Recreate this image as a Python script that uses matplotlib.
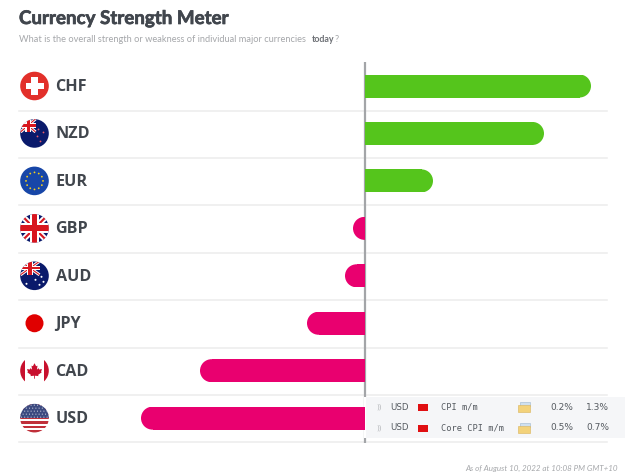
import matplotlib
matplotlib.use("Agg")
import matplotlib.pyplot as plt
import matplotlib.patheffects as pe
import numpy as np
from matplotlib.patches import Circle, Rectangle, Polygon

currencies = ["CHF", "NZD", "EUR", "GBP", "AUD", "JPY", "CAD", "USD"]
strength = [226, 179, 68, -12, -20, -58, -165, -224]
events = ["CPI m/m", "Core CPI m/m"]
actual = ["0.2%", "0.5%"]
previous = ["1.3%", "0.7%"]

GREEN = "#55c51c"
PINK = "#e9006f"
INK = "#41464d"
NAVY = "#0a1a6b"
RED = "#d8161f"

ZERO = 365
fig = plt.figure(figsize=(6.25, 4.76), dpi=100)
ax = fig.add_axes([0, 0, 1, 1])
ax.set_xlim(-ZERO, 625 - ZERO)
ax.set_ylim(476, 0)
ax.axis("off")


def px(x):
    return x - ZERO


rows = 86 + 47.45 * np.arange(len(currencies))
BAR_H = 23
HEAVY = [pe.withStroke(linewidth=0.5, foreground=INK)]

# row separators
for y in rows[:-1] + 24.5:
    ax.plot([px(19), px(607)], [y, y], color="#eeeeee", lw=1.2, zorder=1)
ax.plot([px(19), px(607)], [442, 442], color="#eeeeee", lw=1.2, zorder=1)

# zero axis
ax.plot([0, 0], [62, 443], color="#a3a5a8", lw=1.6, zorder=2, solid_capstyle="butt")

# calendar panel
ax.add_patch(Rectangle((px(366), 397), 259, 41, fc="#f5f6f8", ec="none", zorder=3))
ax.add_patch(Rectangle((-1.5, 397), 3, 41, fc="#ffffff", ec="none", zorder=2.5))

# strength bars: square at the axis, rounded at the far end
for y, v in zip(rows, strength):
    sign = 1 if v > 0 else -1
    r = BAR_H / 2
    color = GREEN if v > 0 else PINK
    ax.barh(y, v - sign * r, height=BAR_H, color=color, zorder=4, lw=0)
    cap = Circle((v - sign * r, y), r, fc=color, ec="none", zorder=4)
    ax.add_patch(cap)
    # keep the cap from crossing the zero axis on very short bars
    cap.set_clip_path(Rectangle((min(0, v), y - r), abs(v), BAR_H, transform=ax.transData))


def flag_disc(cy, bg):
    cx = px(34.5)
    clip = Circle((cx, cy), 14.3, transform=ax.transData)
    disc = Circle((cx, cy), 14.3, fc=bg, ec="none", zorder=5)
    ax.add_patch(disc)
    return cx, clip


def clipped(artist, clip):
    ax.add_patch(artist)
    artist.set_clip_path(clip)


def union_jack(cx, cy, x0, y0, w, h, clip, lw=1.0):
    x1, y1 = x0 + w, y0 + h
    for (a, b, c, d) in [(x0, y0, x1, y1), (x0, y1, x1, y0)]:
        for col, width in (("white", lw * 2.2), (RED, lw * 0.8)):
            l, = ax.plot([a, c], [b, d], color=col, lw=width, zorder=6, solid_capstyle="butt")
            l.set_clip_path(clip)
    mx, my = x0 + w / 2, y0 + h / 2
    for col, t in (("white", 0.34), (RED, 0.2)):
        clipped(Rectangle((mx - w * t / 2, y0), w * t, h, fc=col, ec="none", zorder=6), clip)
        clipped(Rectangle((x0, my - h * t / 2), w, h * t, fc=col, ec="none", zorder=6), clip)


def dots(cx, cy, pts, color, clip, s=1.2):
    for dx, dy in pts:
        clipped(Circle((cx + dx, cy + dy), s, fc=color, ec="none", zorder=6), clip)


# CHF
cx, clip = flag_disc(rows[0], "#e2302a")
ax.add_patch(Rectangle((cx - 3.4, rows[0] - 9), 6.8, 18, fc="white", ec="none", zorder=6))
ax.add_patch(Rectangle((cx - 9, rows[0] - 3.4), 18, 6.8, fc="white", ec="none", zorder=6))

# NZD
cx, clip = flag_disc(rows[1], NAVY)
union_jack(cx, rows[1], cx - 14, rows[1] - 14.5, 15, 13, clip)
dots(cx, rows[1], [(4, -4), (9, -1), (3, 3), (6, 8)], "#e85a6a", clip, 0.9)

# EUR
cx, clip = flag_disc(rows[2], "#1746a8")
for a in np.arange(0, 360, 30):
    ax.add_patch(Circle((cx + 8.5 * np.cos(np.radians(a)), rows[2] + 8.5 * np.sin(np.radians(a))),
                        0.9, fc="#f4cf1c", ec="none", zorder=6))

# GBP
cx, clip = flag_disc(rows[3], NAVY)
union_jack(cx, rows[3], cx - 14.5, rows[3] - 14.5, 29, 29, clip, lw=1.9)

# AUD
cx, clip = flag_disc(rows[4], NAVY)
union_jack(cx, rows[4], cx - 14, rows[4] - 14.5, 19, 13.5, clip)
dots(cx, rows[4], [(-8, 8), (1, 4), (7, 1), (9, 6), (5, 9)], "white", clip, 1.0)

# JPY
cx, clip = flag_disc(rows[5], "white")
ax.add_patch(Circle((cx, rows[5]), 9, fc="#e00000", ec="none", zorder=6))

# CAD
cx, clip = flag_disc(rows[6], "white")
clipped(Rectangle((cx - 15, rows[6] - 15), 5.5, 30, fc="#c8102e", ec="none", zorder=6), clip)
clipped(Rectangle((cx + 9.5, rows[6] - 15), 5.5, 30, fc="#c8102e", ec="none", zorder=6), clip)
leaf = [(0, -7.5), (1.6, -4.5), (3, -5), (2.4, -1), (4, -2.6), (4.6, -1.2), (7.5, -1.6), (6.6, 1),
        (7.2, 1.6), (3.6, 4.2), (4, 5.4), (0.4, 5), (0.4, 8), (-0.4, 8), (-0.4, 5), (-4, 5.4),
        (-3.6, 4.2), (-7.2, 1.6), (-6.6, 1), (-7.5, -1.6), (-4.6, -1.2), (-4, -2.6), (-2.4, -1),
        (-3, -5), (-1.6, -4.5)]
ax.add_patch(Polygon([(cx + a, rows[6] + b) for a, b in leaf], fc="#c8102e", ec="none", zorder=6))

# USD
cx, clip = flag_disc(rows[7], "white")
for k in range(0, 13, 2):
    clipped(Rectangle((cx - 15, rows[7] - 14.5 + k * 2.23), 30, 2.23, fc="#c0303a", ec="none", zorder=6), clip)
clipped(Rectangle((cx - 15, rows[7] - 15), 30, 14.5, fc="#3c4a80", ec="none", zorder=7), clip)
for i in range(5):
    for j in range(9):
        p = Circle((cx - 13 + j * 3.2 + (i % 2) * 1.6, rows[7] - 13 + i * 3), 0.55,
                   fc="#d8dbe8", ec="none", zorder=8)
        clipped(p, clip)

# currency codes
for y, c in zip(rows, currencies):
    ax.text(px(55.5), y + 0.8, c, fontsize=11.6, fontweight="bold", family="Open Sans",
            color=INK, va="center", ha="left", zorder=6)

# heading
ax.text(px(19), 18.5, "Currency Strength Meter", fontsize=13.5, fontweight="bold", family="Lato",
        color=INK, va="center", ha="left", path_effects=HEAVY)
ax.text(px(19), 39.5, "What is the overall strength or weakness of individual major currencies",
        fontsize=6.7, family="Lato", color="#a5a7aa", va="center", ha="left")
ax.text(px(312), 39.5, "today", fontsize=6.4, fontweight="bold", family="Lato", color="#6d7075",
        va="center", ha="left")
ax.text(px(335), 39.5, "?", fontsize=6.7, family="Lato", color="#a5a7aa", va="center", ha="left")

# calendar rows
for y, ev, a, b in zip([407, 428], events, actual, previous):
    ax.text(px(379), y, "))", fontsize=5, color="#b5b7ba", family="DejaVu Sans", va="center", ha="center", zorder=6)
    ax.text(px(390), y, "USD", fontsize=6.2, color="#555a60", family="DejaVu Sans", va="center", zorder=6)
    ax.add_patch(Rectangle((px(418), y - 3.5), 10, 7.5, fc="#e00f12", ec="none", zorder=6))
    ax.text(px(441), y, ev, fontsize=6.2, color="#555a60", family="DejaVu Sans Mono", va="center", zorder=6)
    ax.add_patch(Rectangle((px(518), y - 2), 12, 7, fc="#f3d27a", ec="#d9b45a", lw=0.4, zorder=6))
    ax.add_patch(Rectangle((px(520), y - 5.5), 10, 4, fc="#cfe0ef", ec="#9db7cf", lw=0.4, zorder=5.9))
    ax.text(px(550), y, a, fontsize=6.5, color="#555a60", family="DejaVu Sans", va="center", zorder=6)
    ax.text(px(586), y, b, fontsize=6.5, color="#555a60", family="DejaVu Sans", va="center", zorder=6)

# timestamp
ax.text(px(618), 468, "As of August 10, 2022 at 10:08 PM GMT+10", fontsize=5.8, style="italic",
        family="Lato", color="#a5a7aa", va="center", ha="right")

fig.savefig("out.png", dpi=100, facecolor="white")
